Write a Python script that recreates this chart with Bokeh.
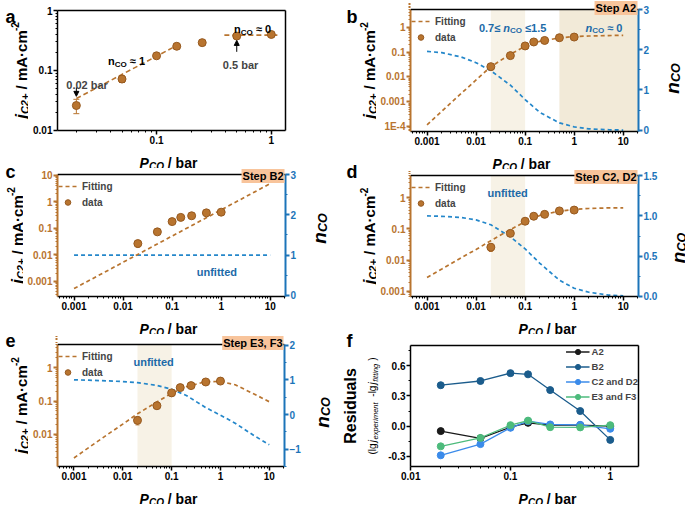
import math
from bokeh.plotting import figure
from bokeh.models import (Range1d, LinearScale, LinearAxis, FixedTicker, CustomJSTickFormatter, Label,
                          Legend, LegendItem, BoxAnnotation, Whisker, TeeHead, Arrow, NormalHead,
                          ColumnDataSource, Span, NumeralTickFormatter)
from bokeh.layouts import row, column
from bokeh.embed import file_html
from bokeh.resources import INLINE

# ---------------- data ----------------
P_DATA = [0.02, 0.05, 0.1, 0.15, 0.25, 0.5, 1.0]
J_DATA = [0.026, 0.072, 0.176, 0.254, 0.292, 0.376, 0.40]
J_ERR = [0.007, 0.009, 0.005, 0.026, 0.028, 0.035, 0.01]

A_FIT1_P = [0.02, 0.155]
A_FIT1_J = [0.034, 0.27]
A_FIT2_P = [0.39, 1.15]
A_FIT2_J = [0.39, 0.39]

FIT_P = [0.001, 0.002, 0.005, 0.01, 0.02, 0.05, 0.1, 0.2, 0.5, 1.0, 2.0, 5.0, 10.0]
B_FIT_J = [1.2e-4, 4.2e-4, 2.2e-3, 7.6e-3, 0.026, 0.082, 0.17, 0.27, 0.37, 0.42, 0.44, 0.46, 0.47]
B_FIT_N = [1.96, 1.93, 1.82, 1.68, 1.48, 1.12, 0.76, 0.44, 0.18, 0.08, 0.03, 0.01, 0.0]
C_FIT_P = [0.001, 10.0]
C_FIT_J = [5.2e-4, 4.8]
C_FIT_N = [1.0, 1.0]
D_FIT_J = [0.0028, 0.0052, 0.012, 0.022, 0.042, 0.095, 0.17, 0.27, 0.37, 0.42, 0.45, 0.47, 0.47]
D_FIT_N = [1.0, 0.995, 0.98, 0.95, 0.89, 0.74, 0.59, 0.41, 0.2, 0.1, 0.05, 0.015, 0.005]
E_FIT_J = [0.0019, 0.0039, 0.01, 0.02, 0.041, 0.094, 0.172, 0.27, 0.385, 0.39, 0.31, 0.16, 0.095]
E_FIT_N = [1.0, 0.99, 0.97, 0.95, 0.92, 0.84, 0.73, 0.55, 0.2, -0.02, -0.25, -0.62, -0.87]

BAND_MID = [0.02, 0.1]
BAND_HIGH = [0.5]

RES_A2 = [-0.049, -0.12, -0.01, 0.033, 0.01, 0.01, 0.0]
RES_B2 = [0.406, 0.448, 0.526, 0.514, 0.358, 0.15, -0.136]
RES_CD2 = [-0.289, -0.178, -0.016, 0.049, 0.017, 0.013, -0.026]
RES_EF3 = [-0.2, -0.117, 0.01, 0.055, -0.01, -0.012, 0.01]
RES_NAMES = ["A2", "B2", "C2 and D2", "E3 and F3"]

TICKS_A_X = [0.01, 0.1, 1.0]
TICKS_A_Y = [0.01, 0.1, 1.0]
TICKS_WIDE_X = [0.001, 0.01, 0.1, 1.0, 10.0]
TICKS_B_Y = [1e-4, 1e-3, 1e-2, 0.1, 1.0]
TICKS_C_Y = [1e-3, 1e-2, 0.1, 1.0, 10.0]
TICKS_D_Y = [1e-3, 1e-2, 0.1, 1.0]
TICKS_E_Y = [1e-2, 0.1, 1.0]
TICKS_N3 = [0, 1, 2, 3]
TICKS_N3_MINOR = [0.5, 1.5, 2.5]
TICKS_N15 = [0.0, 0.5, 1.0, 1.5]
TICKS_N15_MINOR = [0.25, 0.75, 1.25]
TICKS_N2 = [-1, 0, 1, 2]
TICKS_N2_MINOR = [-1.5, -0.5, 0.5, 1.5]
TICKS_F_Y = [-0.3, 0.0, 0.3, 0.6]
TICKS_F_Y_MINOR = [-0.15, 0.15, 0.45, 0.75]

# ---------------- style ----------------
FONT = "Liberation Sans"
BROWN = "#B8742F"
BROWN_D = "#96591F"
BLUE_AX = "#1C74B9"
BLUE_LN = "#2487CA"
BLUE_TX = "#1C6AA8"
PEACH = "#F8C49B"
BAND_L = "#F7F2E6"
BAND_D = "#F2EAD8"
RES_COLORS = ["#1a1a1a", "#1B5C8C", "#3B8BEA", "#4DBB7C"]

CW = {' ': 278, '(': 333, ')': 333, '+': 584, '-': 333, '.': 278, '/': 278, ',': 278, '\u00b7': 278,
      '\u2248': 584, '\u2264': 549,
      'A': 722, 'B': 722, 'C': 722, 'D': 722, 'E': 667, 'F': 611, 'O': 778, 'P': 667, 'R': 722, 'S': 667,
      'a': 556, 'b': 611, 'c': 556, 'd': 611, 'e': 556, 'f': 333, 'g': 611, 'i': 278, 'j': 278, 'l': 278,
      'm': 889, 'n': 611, 'o': 611, 'p': 611, 'r': 389, 's': 556, 't': 333, 'u': 611, 'x': 556}


def tw(text, size):
    return sum(CW.get(ch, 556) for ch in text) * size / 1000.0


def rich(p, x, y, pieces, angle=0.0, align="center", color="black",
         x_units="screen", y_units="screen", y_range_name=None):
    widths = [tw(t, s) for t, s, _, _ in pieces]
    total = sum(widths)
    pos = {"left": 0.0, "center": -total / 2.0, "right": -total}[align]
    for (text, size, style, shift), w in zip(pieces, widths):
        body = text.strip()
        lead = tw(text[: len(text) - len(text.lstrip())], size)
        a = pos + lead
        if angle == 0:
            xo, yo = a, shift
        else:
            xo, yo = -shift, a
        kw = dict(x=x, y=y, x_units=x_units, y_units=y_units, x_offset=xo, y_offset=yo, text=body,
                  angle=angle, text_font=FONT, text_font_size=f"{size}px", text_font_style=style,
                  text_color=color, text_align="left", text_baseline="alphabetic")
        if y_range_name:
            kw["y_range_name"] = y_range_name
        p.add_layout(Label(**kw))
        pos += w


def log_minors(e0, e1):
    return [k * 10.0 ** e for e in range(e0, e1) for k in range(2, 10)]


LOG_CODE = """
if (Math.abs(tick - 1e-4) < 1e-10) { return "1E-4"; }
return String(parseFloat(tick.toPrecision(6)));
"""


def clean(p):
    p.outline_line_color = None
    p.xgrid.visible = False
    p.ygrid.visible = False
    p.background_fill_color = "white"
    p.border_fill_color = "white"


def make_fig(W, H, mbl, mbr, mbt, mbb, xr, yr, ylog=True):
    p = figure(width=W, height=H, x_axis_type="log", y_axis_type="log" if ylog else "linear",
               x_range=Range1d(*xr), y_range=Range1d(*yr), output_backend="svg",
               toolbar_location=None, min_border_left=mbl, min_border_right=mbr,
               min_border_top=mbt, min_border_bottom=mbb)
    clean(p)
    return p


def strip(w, h):
    p = figure(width=w, height=h, x_range=Range1d(0, w), y_range=Range1d(0, h), output_backend="svg",
               toolbar_location=None, x_axis_location=None, y_axis_location=None, min_border=0,
               min_border_left=0, min_border_right=0, min_border_top=0, min_border_bottom=0)
    clean(p)
    return p


def box(*children):
    # wrap each child in its own column so that sibling plot frames are not aligned
    return [column(c) for c in children]


def style_axis(ax, color, ticks, minors, lw=1.5, log=False, fmt=None, standoff=1):
    ax.ticker = FixedTicker(ticks=ticks, minor_ticks=minors)
    ax.axis_line_color = color
    ax.axis_line_width = lw
    ax.major_tick_line_color = color
    ax.minor_tick_line_color = color
    ax.major_tick_line_width = lw
    ax.minor_tick_line_width = 1
    ax.major_tick_out = 4
    ax.major_tick_in = 0
    ax.minor_tick_out = 2
    ax.minor_tick_in = 0
    ax.major_label_text_font = FONT
    ax.major_label_text_font_size = "10px"
    ax.major_label_text_font_style = "bold"
    ax.major_label_text_color = color
    ax.major_label_standoff = standoff
    ax.axis_label_standoff = 0
    if log:
        ax.formatter = CustomJSTickFormatter(code=LOG_CODE)
    elif fmt:
        ax.formatter = NumeralTickFormatter(format=fmt)


def blank_axis(p, side):
    ax = LinearAxis(ticker=FixedTicker(ticks=[]), axis_line_color="black", axis_line_width=1.5,
                    major_tick_out=0, major_tick_in=0, minor_tick_out=0, minor_tick_in=0,
                    major_label_standoff=0, axis_label_standoff=0, major_label_text_font_size="0px")
    p.add_layout(ax, side)


def x_label(s, xc, y=5.2):
    rich(s, xc, y, [("P", 14, "bold italic", 0), ("CO", 10, "bold italic", -3),
                    (" / bar", 14, "bold", 0)], align="center")


def j_label(s, x, yc):
    rich(s, x, yc, [("j", 17, "bold italic", 0), ("C2+", 11, "bold italic", -3.5),
                    (" / mA\u00b7cm", 15, "bold", 0), ("-2", 10, "bold", 6)],
         angle=math.pi / 2, align="center")


def n_label(s, x, yc):
    rich(s, x, yc, [("n", 19, "bold italic", 0), ("CO", 12.5, "bold italic", -4)],
         angle=math.pi / 2, align="center")


def letter(s, text, x, y):
    s.add_layout(Label(x=x, y=y, x_units="screen", y_units="screen", text=text, text_font=FONT,
                       text_font_size="18px", text_font_style="bold", text_color="black",
                       text_align="left", text_baseline="alphabetic"))


def data_marks(p, head=5):
    src = ColumnDataSource(dict(x=P_DATA, y=J_DATA,
                                up=[j + e for j, e in zip(J_DATA, J_ERR)],
                                lo=[j - e for j, e in zip(J_DATA, J_ERR)]))
    p.add_layout(Whisker(source=src, base="x", upper="up", lower="lo", line_color=BROWN, line_width=1,
                         upper_head=TeeHead(size=head, line_color=BROWN, line_width=1),
                         lower_head=TeeHead(size=head, line_color=BROWN, line_width=1)))
    return p.scatter("x", "y", source=src, size=8, marker="circle", fill_color=BROWN,
                     line_color=BROWN_D, line_width=1)


# ---------------- geometry ----------------
FW = 228
MBB = 20
BS_H = 18
X_WIDE = (4.6e-4, 20.5)


# ---------------- panel a ----------------
def main_a():
    mbl, mbr, mbt, H = 29, 50, 10, 150
    p = make_fig(mbl + FW + mbr, H, mbl, mbr, mbt, MBB, (0.0137, 1.33), (0.00995, 1.005))
    style_axis(p.xaxis[0], "black", TICKS_A_X, log_minors(-2, 1), log=True)
    style_axis(p.yaxis[0], "black", TICKS_A_Y, log_minors(-2, 0), log=True)
    blank_axis(p, "above")
    blank_axis(p, "right")
    p.line(A_FIT1_P, A_FIT1_J, line_color=BROWN, line_dash="5 3", line_width=1.6)
    p.line(A_FIT2_P, A_FIT2_J, line_color=BROWN, line_dash="5 3", line_width=1.6)
    data_marks(p, head=6)
    p.add_layout(Label(x=0.0248, y=0.0576, text="0.02 bar", text_font=FONT, text_font_size="11px",
                       text_font_style="bold", text_align="center", text_baseline="alphabetic"))
    p.add_layout(Arrow(x_start=P_DATA[0], y_start=0.052, x_end=P_DATA[0], y_end=0.037,
                       line_color="black", line_width=1,
                       end=NormalHead(size=5, fill_color="black", line_color="black")))
    rich(p, 0.055, 0.1435, [("n", 11, "bold", 0), ("CO", 8, "bold", -3), (" \u2248 1", 11, "bold", 0)],
         x_units="data", y_units="data")
    rich(p, 0.69, 0.49, [("n", 11, "bold", 0), ("CO", 8, "bold", -3), (" \u2248 0", 11, "bold", 0)],
         x_units="data", y_units="data")
    p.add_layout(Label(x=0.54, y=0.123, text="0.5 bar", text_font=FONT, text_font_size="11px",
                       text_font_style="bold", text_align="center", text_baseline="alphabetic"))
    p.add_layout(Arrow(x_start=P_DATA[5], y_start=0.205, x_end=P_DATA[5], y_end=0.318,
                       line_color="black", line_width=1,
                       end=NormalHead(size=5, fill_color="black", line_color="black")))
    return p


# ---------------- twin panels b-e ----------------
def twin(H, ext, mbl, mbr, yr, yt, nr, nt, nminor, nfmt, fit_p, fit_j, fit_n, bands, step):
    fh_tot = H - MBB
    fh_vis = fh_tot - ext
    lo, hi = math.log10(yr[0]), math.log10(yr[1])
    ytop = 10 ** (hi + ext * (hi - lo) / fh_vis)
    ntop = nr[1] + ext * (nr[1] - nr[0]) / fh_vis
    p = make_fig(mbl + FW + mbr, H, mbl, mbr, 0, MBB, X_WIDE, (yr[0], ytop))
    p.extra_y_ranges = {"n": Range1d(nr[0], ntop)}
    p.extra_y_scales = {"n": LinearScale()}
    style_axis(p.xaxis[0], "black", TICKS_WIDE_X, log_minors(-4, 2), log=True)
    style_axis(p.yaxis[0], BROWN, yt, log_minors(-5, 2), lw=2, log=True)
    p.yaxis[0].bounds = (yr[0], yr[1])
    rax = LinearAxis(y_range_name="n", bounds=(nr[0], nr[1]))
    style_axis(rax, BLUE_AX, nt, nminor, lw=2, fmt=nfmt)
    p.add_layout(rax, "right")
    for b, col in bands:
        kw = dict(left=b[0], top=yr[1], fill_color=col, fill_alpha=1.0, line_color=None, level="underlay")
        if len(b) > 1:
            kw["right"] = b[1]
        p.add_layout(BoxAnnotation(**kw))
    p.line(fit_p, fit_n, y_range_name="n", line_color=BLUE_LN, line_dash="4 3", line_width=1.7)
    fit = p.line(fit_p, fit_j, line_color=BROWN, line_dash="4 3", line_width=1.7)
    sc = data_marks(p, head=4)
    leg_h = 2 * 2 + 14 + 2 + 14
    leg = Legend(items=[LegendItem(label="Fitting", renderers=[fit]), LegendItem(label="data", renderers=[sc])],
                 location=(1, fh_vis - 1 - leg_h), background_fill_alpha=0, border_line_color=None,
                 label_text_font=FONT, label_text_font_size="10px", label_text_font_style="bold",
                 glyph_width=19, glyph_height=14, label_height=14, spacing=2, padding=2, margin=0,
                 label_standoff=5)
    p.add_layout(leg)
    p.add_layout(Span(location=yr[1], dimension="width", line_color="black", line_width=1.5))
    p.add_layout(Label(x=X_WIDE[1], x_offset=-1, y=fh_vis + min(1.5, ext - 7.5), x_units="data",
                       y_units="screen", text=step, text_font=FONT, text_font_size="11px",
                       text_font_style="bold", text_color="black", text_align="right",
                       text_baseline="middle", background_fill_color=PEACH, background_fill_alpha=1.0,
                       padding=1))
    return p


def unfitted(p, x, y):
    p.add_layout(Label(x=x, y=y, y_range_name="n", text="unfitted", text_font=FONT, text_font_size="11px",
                       text_font_style="bold", text_color=BLUE_TX, text_align="center",
                       text_baseline="alphabetic"))


def main_b():
    p = twin(151, 9, 34, 15, (6.5e-5, 5.1), TICKS_B_Y, (-0.035, 3.005), TICKS_N3, TICKS_N3_MINOR, None,
             FIT_P, B_FIT_J, B_FIT_N, [(BAND_MID, BAND_L), (BAND_HIGH, BAND_D)], "Step A2")
    rich(p, 0.0557, 2.556, [("0.7\u2264 ", 11, "bold", 0), ("n", 11, "bold italic", 0), ("CO", 8, "bold", -3),
                            (" \u22641.5", 11, "bold", 0)], color=BLUE_TX, x_units="data", y_units="data",
         y_range_name="n")
    rich(p, 4.08, 2.556, [("n", 11, "bold italic", 0), ("CO", 8, "bold", -3), (" \u2248 0", 11, "bold", 0)],
         color=BLUE_TX, x_units="data", y_units="data", y_range_name="n")
    return p


def main_c():
    p = twin(148, 6, 34, 15, (2.6e-4, 10.6), TICKS_C_Y, (-0.03, 3.005), TICKS_N3, TICKS_N3_MINOR, None,
             C_FIT_P, C_FIT_J, C_FIT_N, [], "Step B2")
    unfitted(p, 0.818, 0.585)
    return p


def main_d():
    p = twin(147, 6, 34, 22, (6.9e-4, 5.1), TICKS_D_Y, (-0.003, 1.503), TICKS_N15, TICKS_N15_MINOR, "0.0",
             FIT_P, D_FIT_J, D_FIT_N, [(BAND_MID, BAND_L)], "Step C2, D2")
    unfitted(p, 0.044, 1.287)
    return p


def main_e():
    p = twin(152, 10, 29, 18, (1.05e-3, 5.1), TICKS_E_Y, (-1.5, 2.02), TICKS_N2, TICKS_N2_MINOR, None,
             FIT_P, E_FIT_J, E_FIT_N, [(BAND_MID, BAND_L)], "Step E3, F3")
    unfitted(p, 0.0428, 1.506)
    return p


# ---------------- panel f ----------------
def main_f():
    mbl, mbr, mbt, H = 26, 47, 11, 152
    p = make_fig(mbl + FW + mbr, H, mbl, mbr, mbt, MBB, (0.00995, 1.92), (-0.4, 0.8), ylog=False)
    style_axis(p.xaxis[0], "black", TICKS_A_X, log_minors(-2, 1), log=True)
    style_axis(p.yaxis[0], "black", TICKS_F_Y, TICKS_F_Y_MINOR, fmt="0.0")
    blank_axis(p, "above")
    blank_axis(p, "right")
    items = []
    for name, vals, col in zip(RES_NAMES, [RES_A2, RES_B2, RES_CD2, RES_EF3], RES_COLORS):
        ln = p.line(P_DATA, vals, line_color=col, line_width=1.3)
        sc = p.scatter(P_DATA, vals, size=7, marker="circle", fill_color=col, line_color=col)
        items.append(LegendItem(label=name, renderers=[ln, sc]))
    leg = Legend(items=items, location="top_right", background_fill_alpha=0, border_line_color=None,
                 label_text_font=FONT, label_text_font_size="9.5px", label_text_font_style="bold",
                 glyph_width=24, glyph_height=13, label_height=13, spacing=2, padding=0, margin=0,
                 label_standoff=2)
    p.add_layout(leg)
    return p


# ---------------- left column (width 335) ----------------
ma, mc, me = main_a(), main_c(), main_e()

ls_a = strip(28, 150)
j_label(ls_a, 20.5, 80)
letter(ls_a, "a", 5, 133.3)

bs_a = strip(312, BS_H)
x_label(bs_a, 145)
rs_c = strip(312 - mc.width, 148)
n_label(rs_c, 18.5, 88)
ls_c = strip(23, BS_H + 148)
j_label(ls_c, 16.5, 81)
letter(ls_c, "c", 5, 145)

bs_c = strip(307, BS_H)
x_label(bs_c, 140)
rs_e = strip(307 - me.width, 152)
n_label(rs_e, 18.5, 74)
bs_e = strip(307, BS_H)
x_label(bs_e, 140)
ls_e = strip(28, BS_H + 152 + BS_H)
j_label(ls_e, 20.5, 99)
letter(ls_e, "e", 5, 164)

left_col = column(
    row(*box(ls_a, ma)),
    row(*box(ls_c, column(bs_a, row(*box(mc, rs_c))))),
    row(*box(ls_e, column(bs_c, row(*box(me, rs_e)), bs_e))),
)

# ---------------- right column (width 350) ----------------
mb, md, mf = main_b(), main_d(), main_f()

ls_b = strip(41, 151)
j_label(ls_b, 34, 81)
letter(ls_b, "b", 11, 134.3)
rs_b = strip(350 - 41 - mb.width, 151)
n_label(rs_b, 18.5, 73)

bs_b = strip(309, BS_H)
x_label(bs_b, 145)
rs_d = strip(309 - md.width, 147)
n_label(rs_d, 17.5, 68.5)
ls_d = strip(41, BS_H + 147)
j_label(ls_d, 34, 80.5)
letter(ls_d, "d", 11, 145)

bs_d = strip(301, BS_H)
x_label(bs_d, 137)
bs_f = strip(301, BS_H)
x_label(bs_f, 137)
ls_f = strip(49, BS_H + 152 + BS_H)
rich(ls_f, 15, 98.5, [("Residuals", 16, "bold", 0)], angle=math.pi / 2, align="center")
rich(ls_f, 37, 98.5, [("(lg", 10, "normal", 0), ("j", 10, "italic", 0), ("experiment", 7.5, "italic", -2.5),
                      (" -lg", 10, "normal", 0), ("j", 10, "italic", 0), ("fitting", 7.5, "italic", -2.5),
                      (")", 10, "normal", 0)], angle=math.pi / 2, align="center")
letter(ls_f, "f", 11, 164)

right_col = column(
    row(*box(ls_b, mb, rs_b)),
    row(*box(ls_d, column(bs_b, row(*box(md, rs_d))))),
    row(*box(ls_f, column(bs_d, mf, bs_f))),
)

layout = row(left_col, right_col)
open("out.html", "w").write(file_html(layout, INLINE))
